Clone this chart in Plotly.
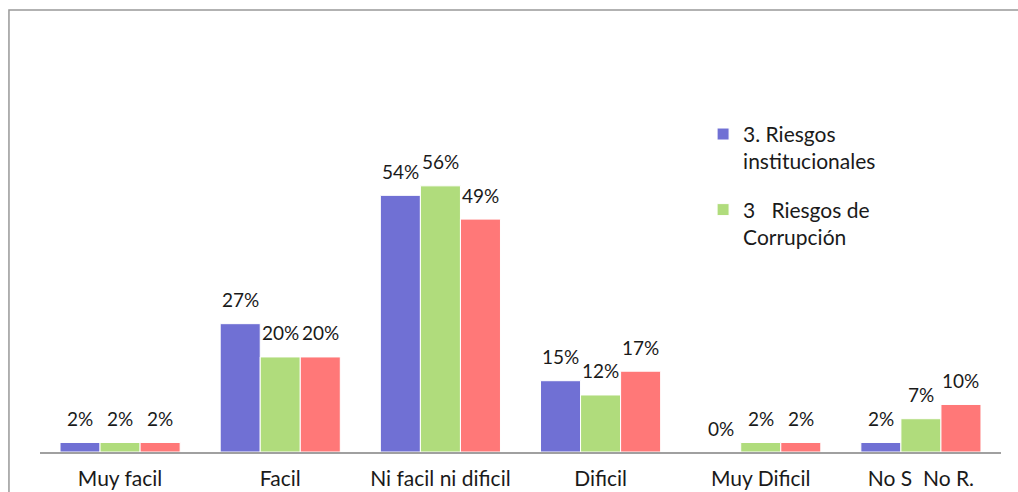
import plotly.graph_objects as go

categories = ["Muy facil", "Facil", "Ni facil ni dificil", "Dificil", "Muy Dificil", "No S  No R."]
riesgos_institucionales = [2, 27, 54, 15, 0, 2]
riesgos_corrupcion = [2, 20, 56, 12, 2, 7]
tercera_serie = [2, 20, 49, 17, 2, 10]

series = [
    ("3. Riesgos<br>institucionales", riesgos_institucionales, "#7070D4", True),
    ("3   Riesgos de<br>Corrupción", riesgos_corrupcion, "#B0DC7C", True),
    ("Serie 3", tercera_serie, "#FF7878", False),
]

FONT = "Lato, 'Open Sans', sans-serif"

fig = go.Figure()
annotations = []
offsets = [-40, 0, 40]
for i, (name, vals, color, show) in enumerate(series):
    fig.add_trace(go.Bar(
        x=categories, y=vals, name=name,
        marker=dict(color=color, line=dict(color="white", width=1)),
        showlegend=show, legendgroup=f"g{i}",
    ))
    for cat, v in zip(categories, vals):
        annotations.append(dict(
            x=cat, y=v, xref="x", yref="y", text=f"{v}%",
            showarrow=False, xshift=offsets[i], yshift=24,
            font=dict(family=FONT, size=19, color="#1a1a1a"),
        ))

fig.update_layout(
    width=1018, height=492,
    margin=dict(l=40, r=17, t=10, b=40),
    paper_bgcolor="white", plot_bgcolor="white",
    barmode="group", bargap=0.25, bargroupgap=0,
    font=dict(family=FONT, size=21, color="#1a1a1a"),
    xaxis=dict(showline=True, linecolor="#A0A0A0", linewidth=1.5,
               ticks="", ticklabelstandoff=7, showgrid=False,
               automargin=False, tickfont=dict(size=21)),
    yaxis=dict(range=[0, 93], visible=False, showgrid=False, zeroline=False,
               automargin=False),
    legend=dict(x=0.69, y=0.765, xanchor="left", yanchor="top",
                font=dict(size=21), tracegroupgap=18, valign="top",
                itemwidth=30, bgcolor="rgba(0,0,0,0)"),
    annotations=annotations,
    shapes=[dict(type="rect", xref="paper", yref="paper",
                 x0=-0.0323, x1=1.05, y0=-0.3, y1=1,
                 line=dict(color="#999999", width=1.5), layer="below")],
)

fig.write_html("out.html")
